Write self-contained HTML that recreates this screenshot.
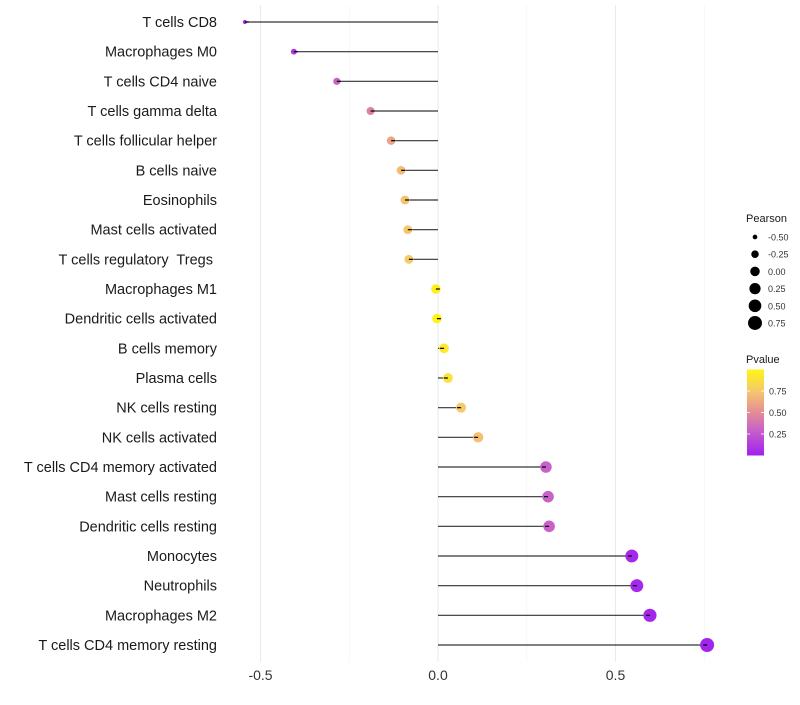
<!DOCTYPE html>
<html><head><meta charset="utf-8"><style>
body{margin:0;background:#fff;font-family:"Liberation Sans",sans-serif;}
text{white-space:pre;}
</style></head><body>
<svg id="chart" width="800" height="700" xmlns="http://www.w3.org/2000/svg"></svg>
<script>
const categories=["T cells CD8","Macrophages M0","T cells CD4 naive","T cells gamma delta","T cells follicular helper","B cells naive","Eosinophils","Mast cells activated","T cells regulatory  Tregs ","Macrophages M1","Dendritic cells activated","B cells memory","Plasma cells","NK cells resting","NK cells activated","T cells CD4 memory activated","Mast cells resting","Dendritic cells resting","Monocytes","Neutrophils","Macrophages M2","T cells CD4 memory resting"];
const pearson=[-0.544,-0.406,-0.285,-0.19,-0.132,-0.104,-0.093,-0.085,-0.082,-0.006,-0.003,0.017,0.028,0.065,0.113,0.304,0.31,0.313,0.546,0.56,0.597,0.758];
const pvalue=[0.03,0.1,0.3,0.45,0.6,0.7,0.73,0.75,0.76,0.98,0.99,0.93,0.9,0.76,0.72,0.3,0.3,0.3,0.04,0.04,0.03,0.02];
const xTicks=[-0.5,0,0.5];
const xTickLabels=["-0.5","0.0","0.5"];
const legendPearson=[-0.5,-0.25,0,0.25,0.5,0.75];
const legendP=[0.25,0.5,0.75];

const NS="http://www.w3.org/2000/svg";
const svg=document.getElementById('chart');
const x=v=>438+v*355;
const y=i=>22+i*(623/21);
const r=v=>Math.sqrt(4+Math.max(0,(v+0.544))/1.302*45);
const stops=[[0,[160,32,240]],[0.3,[200,98,200]],[0.5,[228,140,150]],[0.75,[245,200,108]],[1,[255,245,20]]];
function col(p){for(let k=1;k<stops.length;k++){if(p<=stops[k][0]){const a=stops[k-1],b=stops[k],t=(p-a[0])/(b[0]-a[0]);return 'rgb('+a[1].map((c,j)=>Math.round(c+(b[1][j]-c)*t)).join(',')+')';}}return 'rgb(255,245,20)';}
function el(t,a,txt){const e=document.createElementNS(NS,t);for(const k in a)e.setAttribute(k,a[k]);if(txt!==undefined)e.textContent=txt;svg.appendChild(e);return e;}

[-0.25,0.25,0.75].forEach(v=>{const g=el('line',{x1:x(v),x2:x(v),y1:5,y2:662,stroke:'#f3f3f3','stroke-width':0.6});

});
xTicks.forEach((v,i)=>{const g=el('line',{x1:x(v),x2:x(v),y1:5,y2:662,stroke:'#ebebeb','stroke-width':1.1});


const t=el('text',{x:x(v),y:680,'text-anchor':'middle','font-size':14,fill:'#333'},xTickLabels[i]);

});

categories.forEach((c,i)=>{
const t=el('text',{x:217,y:y(i)+5,'text-anchor':'end','font-size':14.5,fill:'#1a1a1a'},c);


const l=el('line',{x1:x(0),x2:x(pearson[i]),y1:y(i),y2:y(i),stroke:'#000','stroke-opacity':0.8,'stroke-width':1.2});


const d=el('circle',{cx:x(pearson[i]),cy:y(i),r:r(pearson[i]),fill:col(pvalue[i])});


const l2=el('line',{x1:x(pearson[i]),x2:x(pearson[i])+(pearson[i]<0?4:-4),y1:y(i),y2:y(i),stroke:'#000','stroke-width':1.2});


});

const lt=el('text',{x:746,y:222,'font-size':11,fill:'#1a1a1a'},'Pearson');


legendPearson.forEach((v,i)=>{const cy=237+i*17.2;
const c=el('circle',{cx:755,cy:cy,r:r(v),fill:'#000'});


const t=el('text',{x:768,y:cy+3.5,'font-size':9,fill:'#333'},v.toFixed(2));

});

const pt=el('text',{x:746,y:363,'font-size':11,fill:'#1a1a1a'},'Pvalue');


const defs=el('defs',{});const gr=document.createElementNS(NS,'linearGradient');gr.setAttribute('id','pg');gr.setAttribute('x1',0);gr.setAttribute('y1',1);gr.setAttribute('x2',0);gr.setAttribute('y2',0);
stops.forEach(s=>{const st=document.createElementNS(NS,'stop');st.setAttribute('offset',s[0]);st.setAttribute('stop-color',col(s[0]));gr.appendChild(st);});defs.appendChild(gr);
const bar=el('rect',{x:747,y:369.5,width:17,height:86,fill:'url(#pg)'});


legendP.forEach(p=>{const yy=455.5-p*86;
const tk=el('line',{x1:747,x2:750,y1:yy,y2:yy,stroke:'#fff','stroke-width':0.8});


const tk2=el('line',{x1:761,x2:764,y1:yy,y2:yy,stroke:'#fff','stroke-width':0.8});


const t=el('text',{x:769,y:yy+3.5,'font-size':9,fill:'#333'},p.toFixed(2));

});
</script>
</body></html>
